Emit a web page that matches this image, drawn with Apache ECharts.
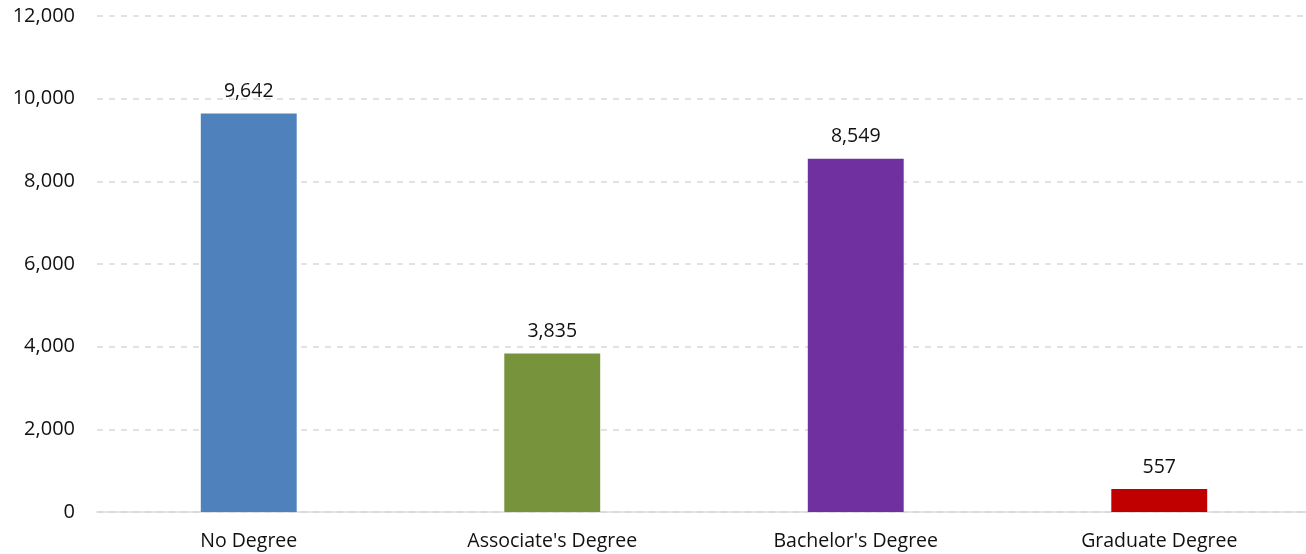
<!DOCTYPE html>
<html>
<head>
<meta charset="utf-8">
<script src="https://cdn.jsdelivr.net/npm/echarts@6/dist/echarts.min.js"></script>
<style>
  html, body { margin: 0; padding: 0; background: #fff; }
  #chart { width: 1306px; height: 554px; }
</style>
</head>
<body>
<div id="chart"></div>
<script>
// Degree categories and counts
const categories = ["No Degree", "Associate's Degree", "Bachelor's Degree", "Graduate Degree"];
const counts = [9642, 3835, 8549, 557];
const barColors = ['#4F81BD', '#77933C', '#7030A0', '#C00000'];

const FONT = '"Open Sans", sans-serif';
const chart = echarts.init(document.getElementById('chart'));

chart.setOption({
  animation: false,
  grid: {
    left: 97, right: -5, top: 16, bottom: 42,
    containLabel: false, outerBoundsMode: 'none'
  },
  xAxis: {
    type: 'category',
    data: categories,
    axisLine: { lineStyle: { color: '#d9d9d9', width: 1.5 } },
    axisTick: { show: false },
    axisLabel: { color: '#111', fontFamily: FONT, fontSize: 19.5, margin: 19 }
  },
  yAxis: {
    type: 'value',
    min: 0,
    max: 12000,
    interval: 2000,
    axisLine: { show: false },
    axisTick: { show: false },
    axisLabel: {
      color: '#111', fontFamily: FONT, fontSize: 20, margin: 22,
      formatter: v => v.toLocaleString('en-US')
    },
    splitLine: { lineStyle: { color: '#d9d9d9', type: [6, 6], width: 1.5 } }
  },
  series: [{
    type: 'bar',
    barWidth: '31.6%',
    data: counts.map((v, i) => ({ value: v, itemStyle: { color: barColors[i] } })),
    label: {
      show: true,
      position: 'top',
      distance: 12,
      color: '#111',
      fontFamily: FONT,
      fontSize: 19.5,
      formatter: p => p.value.toLocaleString('en-US')
    }
  }]
});
</script>
</body>
</html>
